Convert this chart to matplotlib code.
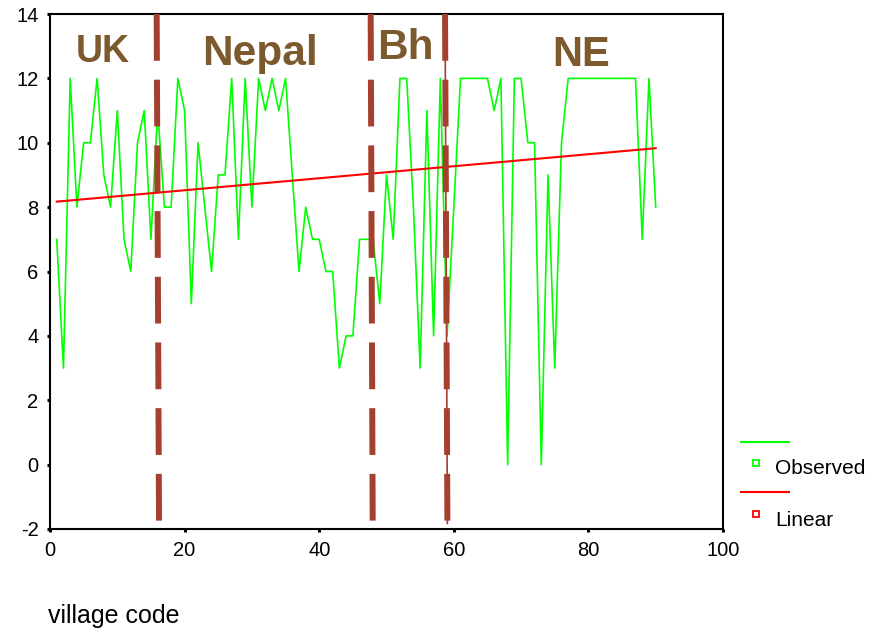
import matplotlib.pyplot as plt
from matplotlib.lines import Line2D

# --- data ---
village = list(range(1, 91))
observed = [7, 3, 12, 8, 10, 10, 12, 9, 8, 11,
            7, 6, 10, 11, 7, 11, 8, 8, 12, 11,
            5, 10, 8, 6, 9, 9, 12, 7, 12, 8,
            12, 11, 12, 11, 12, 9, 6, 8, 7, 7,
            6, 6, 3, 4, 4, 7, 7, 7, 5, 9,
            7, 12, 12, 8, 3, 11, 4, 12, 4, 8,
            12, 12, 12, 12, 12, 11, 12, 0, 12, 12,
            10, 10, 0, 9, 3, 10, 12, 12, 12, 12,
            12, 12, 12, 12, 12, 12, 12, 7, 12, 8]

linear_x = [1, 90]
linear_y = [8.17, 9.83]

regions = ['UK', 'Nepal', 'Bh', 'NE']
boundary_top = [15.85, 47.65, 58.7]
boundary_bottom = [16.2, 47.95, 59.05]

xticks = [0, 20, 40, 60, 80, 100]
yticks = [-2, 0, 2, 4, 6, 8, 10, 12, 14]

plt.rcParams['font.family'] = ['Liberation Sans', 'DejaVu Sans']
plt.rcParams['axes.unicode_minus'] = False

W, H = 869, 628
fig = plt.figure(figsize=(W / 100, H / 100), dpi=100)
ax = fig.add_axes([50 / W, 1 - 529 / H, 673 / W, 515 / H])

ax.plot(village, observed, color='#00ff00', lw=1.2, zorder=2)
ax.plot(linear_x, linear_y, color='#ff0000', lw=1.5, zorder=3)

# region boundaries (thick dashed, the last one with a thin line through it)
brown = '#a5402f'
for i, (xt, xb) in enumerate(zip(boundary_top, boundary_bottom)):
    ax.plot([xt, xb], [14, -1.83], color=brown, lw=4.3,
            linestyle=(0, (7.83, 3.17)), solid_capstyle='butt', zorder=4)
    if i == 2:
        ax.plot([xt, xb], [14, -1.83], color=brown, lw=1.2, zorder=4)

# region names
label_x = [7.9, 31.2, 52.8, 78.9]
label_y = [12.5, 12.4, 12.6, 12.4]
label_size = [27, 30.5, 30.5, 30]
for name, lx, ly, fs in zip(regions, label_x, label_y, label_size):
    ax.text(lx, ly, name, ha='center', va='baseline', fontsize=fs,
            fontweight='bold', color='#7d5a2d', zorder=5)

ax.set_xlim(0, 100)
ax.set_ylim(-2, 14)
ax.set_xticks(xticks)
ax.set_yticks(yticks)
ax.tick_params(direction='out', length=2.3, width=2.2, labelsize=14.5,
               pad=6, color='black')
for s in ax.spines.values():
    s.set_linewidth(1.5)

# legend drawn by hand, SPSS style
def fx(px):
    return px / W

def fy(py):
    return 1 - py / H

for color, y_line, y_mark, label in [('#00ff00', 441.7, 462.7, 'Observed'),
                                     ('#ff0000', 492.3, 514, 'Linear')]:
    fig.add_artist(Line2D([fx(741), fx(789)], [fy(y_line), fy(y_line)],
                          color=color, lw=1.5))
    fig.add_artist(Line2D([fx(755.7)], [fy(y_mark)], marker='s',
                          markersize=5, markerfacecolor='white',
                          markeredgecolor=color, markeredgewidth=1.3,
                          linestyle='none'))
    fig.text(fx(775), fy(y_mark + 11.5), label, fontsize=15, va='baseline')

fig.text(fx(48), fy(622.7), 'village code', fontsize=18, va='baseline')

fig.savefig('out.png', dpi=100)
